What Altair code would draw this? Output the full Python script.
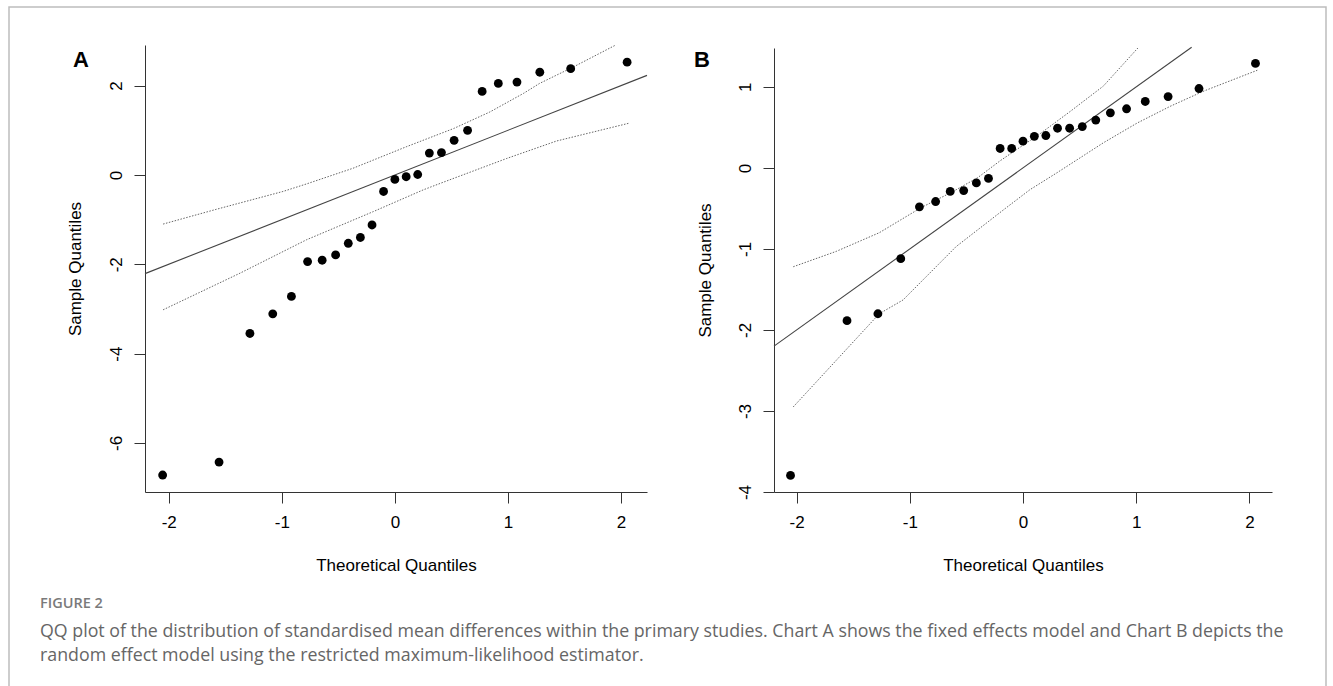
import altair as alt
import pandas as pd

# ---------------- data ----------------
theoretical = [-2.054, -1.555, -1.282, -1.080, -0.915, -0.772, -0.643, -0.524, -0.412,
               -0.305, -0.202, -0.100, 0.000, 0.100, 0.202, 0.305, 0.412, 0.524,
               0.643, 0.772, 0.915, 1.080, 1.282, 1.555, 2.054]

sample_A = [-6.72, -6.43, -3.55, -3.11, -2.72, -1.94, -1.91, -1.79, -1.53, -1.40,
            -1.12, -0.37, -0.10, -0.04, 0.01, 0.49, 0.50, 0.775, 1.00, 1.87,
            2.05, 2.08, 2.30, 2.38, 2.525]

sample_B = [-3.795, -1.885, -1.80, -1.12, -0.48, -0.415, -0.29, -0.28, -0.185, -0.13,
            0.24, 0.24, 0.33, 0.39, 0.40, 0.49, 0.49, 0.51, 0.59, 0.68,
            0.73, 0.82, 0.88, 0.98, 1.29]

# reference lines (y = x), clipped to the plot region
ref_A_x = [-2.21, 2.23]
ref_A_y = [-2.21, 2.23]
ref_B_x = [-2.20, 1.49]
ref_B_y = [-2.20, 1.49]

# pseudo confidence envelopes (dotted)
upper_A_x = [-2.05, -1.58, -0.99, -0.78, -0.37, 0.10, 0.52, 0.84, 1.14, 1.28, 1.58, 1.95]
upper_A_y = [-1.10, -0.77, -0.37, -0.20, 0.15, 0.63, 1.04, 1.41, 1.83, 2.05, 2.42, 2.905]
lower_A_x = [-2.05, -1.37, -0.78, -0.19, 0.25, 0.40, 0.99, 1.43, 2.065]
lower_A_y = [-3.02, -2.20, -1.45, -0.82, -0.335, -0.19, 0.37, 0.76, 1.155]

upper_B_x = [-2.03, -1.65, -1.27, -0.90, -0.63, -0.40, -0.20, 0.00, 0.12, 0.42, 0.71, 1.015]
upper_B_y = [-1.22, -1.03, -0.80, -0.49, -0.30, -0.12, 0.09, 0.28, 0.39, 0.70, 1.01, 1.48]
lower_B_x = [-2.03, -1.27, -1.06, -0.59, -0.17, 0.06, 0.30, 0.71, 1.01, 1.30, 1.60, 2.07]
lower_B_y = [-2.95, -1.80, -1.63, -0.97, -0.515, -0.27, -0.06, 0.31, 0.555, 0.76, 0.95, 1.205]

ticks_A_x = [-2, -1, 0, 1, 2]
ticks_A_y = [-6, -4, -2, 0, 2]
ticks_B_x = [-2, -1, 0, 1, 2]
ticks_B_y = [-4, -3, -2, -1, 0, 1]

caption_head = "FIGURE 2"
caption_1 = ("QQ plot of the distribution of standardised mean differences within the primary "
             "studies. Chart A shows the fixed effects model and Chart B depicts the")
caption_2 = "random effect model using the restricted maximum-likelihood estimator."

W, H = 1333, 686
AX_FONT = "Liberation Sans"
LABEL_EXPR = "replace(datum.label, '\u2212', '-')"


def make_panel(xs, ys, rx, ry, ux, uy, lx, ly, xdom, xrange, ydom, yrange,
               xticks, yticks, yaxis_x, ytitle_dx):
    ymid = (yrange[0] + yrange[1]) / 2
    xmid = (xrange[0] + xrange[1]) / 2
    xscale = alt.Scale(domain=xdom, range=xrange, nice=False, zero=False)
    yscale = alt.Scale(domain=ydom, range=yrange, nice=False, zero=False)
    xaxis = alt.Axis(orient="bottom", offset=yrange[0] - H, values=xticks, grid=False,
                     tickSize=11, tickColor="#333", domainColor="#333", tickWidth=1,
                     domainWidth=1, labelFont=AX_FONT, labelFontSize=17, labelColor="#000",
                     labelPadding=11, labelExpr=LABEL_EXPR, labelFlush=False,
                     title="Theoretical Quantiles", titleFont=AX_FONT, titleFontSize=17,
                     titleFontWeight="normal", titleColor="#000", titleX=xmid, titleY=73,
                     titleBaseline="middle", titleAlign="center")
    yaxis = alt.Axis(orient="left", offset=-yaxis_x, values=yticks, grid=False,
                     tickSize=11, tickColor="#333", domainColor="#333", tickWidth=1,
                     domainWidth=1, labelFont=AX_FONT, labelFontSize=17, labelColor="#000",
                     labelAngle=-90, labelAlign="center", labelBaseline="bottom",
                     labelPadding=9, labelExpr=LABEL_EXPR, labelFlush=False,
                     title="Sample Quantiles", titleFont=AX_FONT, titleFontSize=17,
                     titleFontWeight="normal", titleColor="#000", titleX=ytitle_dx,
                     titleY=ymid, titleAngle=-90 + 360, titleBaseline="middle",
                     titleAlign="center")

    def enc(ch):
        return ch.encode(
            x=alt.X("x:Q", scale=xscale, axis=xaxis),
            y=alt.Y("y:Q", scale=yscale, axis=yaxis),
        )

    pts = enc(alt.Chart(pd.DataFrame({"x": theoretical, "y": ys})).mark_circle(
        size=78, color="#000", opacity=1))
    ref = enc(alt.Chart(pd.DataFrame({"x": rx, "y": ry})).mark_line(
        color="#444", strokeWidth=1.1))
    up = enc(alt.Chart(pd.DataFrame({"x": ux, "y": uy})).mark_line(
        color="#666", strokeWidth=1, strokeDash=[1.5, 1.5]))
    lo = enc(alt.Chart(pd.DataFrame({"x": lx, "y": ly})).mark_line(
        color="#666", strokeWidth=1, strokeDash=[1.5, 1.5]))
    return alt.layer(up, lo, ref, pts)


panel_A = make_panel(theoretical, sample_A, ref_A_x, ref_A_y, upper_A_x, upper_A_y,
                     lower_A_x, lower_A_y, [-2.21, 2.23], [145, 647], [-7.10, 2.91],
                     [492, 45], ticks_A_x, ticks_A_y, 145, -70)
panel_B = make_panel(theoretical, sample_B, ref_B_x, ref_B_y, upper_B_x, upper_B_y,
                     lower_B_x, lower_B_y, [-2.20, 2.20], [774, 1272], [-4.0, 1.48],
                     [492, 48], ticks_B_x, ticks_B_y, 774, -69)

one = pd.DataFrame({"k": [0]})

border = alt.Chart(one).mark_rect(fill=None, stroke="#bdbdbd", strokeWidth=1.5).encode(
    x=alt.value(9), x2=alt.value(1326), y=alt.value(7), y2=alt.value(720))

label_A = alt.Chart(one).mark_text(text="A", font=AX_FONT, fontSize=22, fontWeight="bold",
                                   align="left", baseline="alphabetic", color="#000").encode(
    x=alt.value(73), y=alt.value(67))
label_B = alt.Chart(one).mark_text(text="B", font=AX_FONT, fontSize=22, fontWeight="bold",
                                   align="left", baseline="alphabetic", color="#000").encode(
    x=alt.value(694), y=alt.value(67))

cap_head = alt.Chart(one).mark_text(text=caption_head, font="Open Sans", fontSize=14.5,
                                    fontWeight=600, align="left", baseline="middle",
                                    color="#7a7a7a").encode(x=alt.value(40), y=alt.value(604))
cap_1 = alt.Chart(one).mark_text(text=caption_1, font="Open Sans", fontSize=17.8,
                                 align="left", baseline="middle", color="#666666").encode(
    x=alt.value(40), y=alt.value(632))
cap_2 = alt.Chart(one).mark_text(text=caption_2, font="Open Sans", fontSize=17.8,
                                 align="left", baseline="middle", color="#666666").encode(
    x=alt.value(40), y=alt.value(656))

chart = alt.layer(
    panel_A, panel_B, border, label_A, label_B, cap_head, cap_1, cap_2
).resolve_scale(x="independent", y="independent").properties(
    width=W, height=H, padding=0, autosize=alt.AutoSizeParams(type="none"),
    background="#ffffff"
).configure_view(stroke=None)

chart.save("out.html", embed_options={"renderer": "svg", "actions": False})
